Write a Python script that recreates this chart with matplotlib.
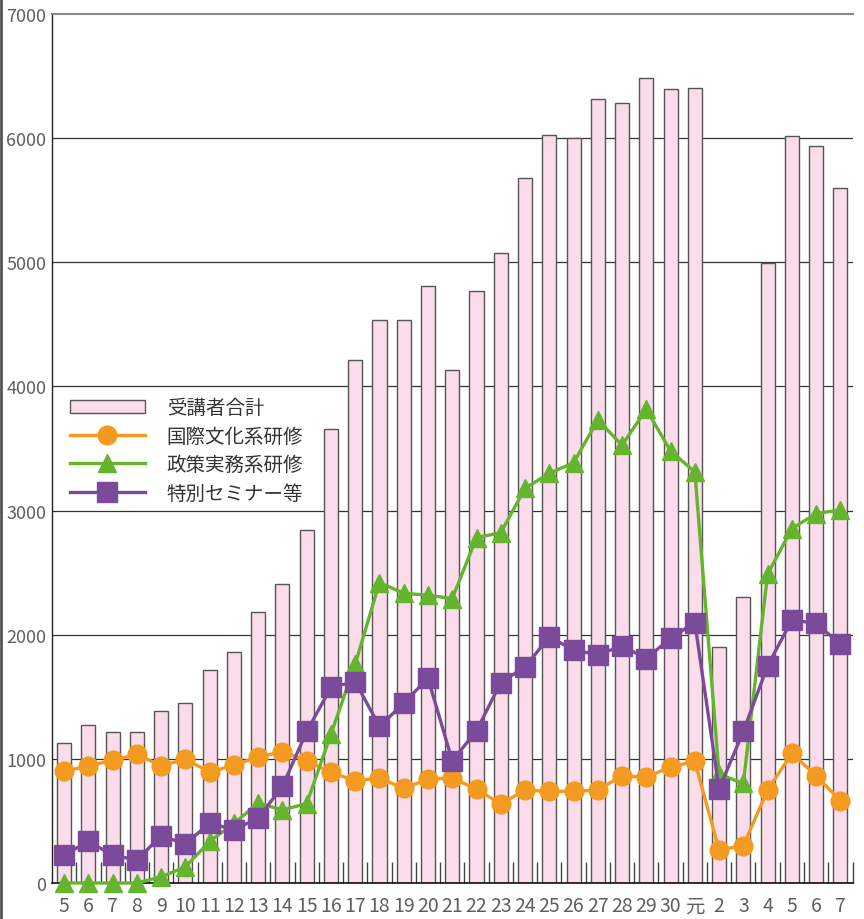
import matplotlib
matplotlib.use("Agg")
import matplotlib.pyplot as plt
from matplotlib.lines import Line2D
from matplotlib.patches import Patch
import numpy as np

plt.rcParams['font.family'] = ['Noto Sans CJK JP', 'DejaVu Sans']

years = ['5', '6', '7', '8', '9', '10', '11', '12', '13', '14', '15', '16', '17',
         '18', '19', '20', '21', '22', '23', '24', '25', '26', '27', '28', '29',
         '30', '元', '2', '3', '4', '5', '6', '7']

# 受講者合計
total = [1124, 1269, 1218, 1220, 1382, 1451, 1717, 1857, 2179, 2407, 2844,
         3660, 4210, 4534, 4534, 4813, 4135, 4770, 5071, 5680, 6023, 6002,
         6318, 6281, 6482, 6393, 6401, 1902, 2307, 4996, 6018, 5937, 5597]
# 国際文化系研修
kokusai = [899, 944, 987, 1036, 944, 998, 893, 950, 1014, 1057, 984, 891,
           824, 845, 762, 837, 845, 757, 636, 749, 738, 738, 749, 864, 851,
           936, 979, 266, 301, 749, 1044, 864, 663]
# 政策実務系研修
seisaku = [0, 0, 0, 0, 50, 130, 335, 480, 644, 588, 640, 1199, 1763, 2420,
           2334, 2318, 2291, 2782, 2822, 3179, 3300, 3385, 3729, 3528, 3815,
           3480, 3311, 877, 802, 2487, 2855, 2976, 3005]
# 特別セミナー等
tokubetsu = [225, 335, 225, 185, 381, 314, 483, 429, 523, 778, 1221, 1575,
             1623, 1261, 1449, 1650, 984, 1226, 1615, 1741, 1982, 1878, 1838,
             1910, 1808, 1972, 2098, 757, 1221, 1749, 2117, 2093, 1924]

pink = '#FADCEA'
orange = '#F39A21'
green = '#64B42E'
purple = '#7C4A9A'
tick_grey = '#5f5f5f'

fig = plt.figure(figsize=(8.64, 9.2), dpi=100)
ax = fig.add_axes([52 / 864, 1 - 884 / 920, 800.5 / 864, 869 / 920])

x = np.arange(len(years))

# grid lines behind everything
for v in range(1000, 7000, 1000):
    ax.axhline(v, color='#333333', lw=0.9, zorder=0)

ax.bar(x, total, width=0.58, color=pink, edgecolor='#555555', linewidth=1.0, zorder=1)

# markers at 0 hang below the axis in the original, so no clipping
ax.plot(x, kokusai, color=orange, lw=2.4, marker='o', markersize=13.5, zorder=3, clip_on=False)
ax.plot(x, seisaku, color=green, lw=2.4, marker='^', markersize=13.5, zorder=4, clip_on=False)
ax.plot(x, tokubetsu, color=purple, lw=2.4, marker='s', markersize=14.5, zorder=5, clip_on=False)

ax.set_xlim(-0.5, len(years) - 0.5)
ax.set_ylim(0, 7000)

ax.set_yticks(range(0, 7001, 1000))
ax.set_yticklabels([str(v) for v in range(0, 7001, 1000)])
ax.tick_params(axis='y', length=0, pad=4, labelsize=13, labelcolor=tick_grey)

ax.set_xticks(x)
ax.set_xticklabels(years)
ax.tick_params(axis='x', which='major', length=0, pad=9, labelsize=14, labelcolor=tick_grey)
ax.set_xticks(np.arange(0.5, len(years), 1.0), minor=True)
ax.tick_params(axis='x', which='minor', direction='in', length=15, width=1.0, color='#444444')

ax.spines['right'].set_visible(False)
ax.spines['top'].set_color('#888888')
ax.spines['top'].set_linewidth(1.5)
ax.spines['left'].set_color('#222222')
ax.spines['left'].set_linewidth(1.0)
ax.spines['bottom'].set_color('#111111')
ax.spines['bottom'].set_linewidth(1.2)

handles = [
    Patch(facecolor=pink, edgecolor='#555555', linewidth=1.0),
    Line2D([], [], color=orange, lw=2.4, marker='o', markersize=13.5),
    Line2D([], [], color=green, lw=2.4, marker='^', markersize=13.5),
    Line2D([], [], color=purple, lw=2.4, marker='s', markersize=14.5),
]
labels = ['受講者合計', '国際文化系研修', '政策実務系研修', '特別セミナー等']
ax.legend(handles, labels, loc='upper left', bbox_to_anchor=(0.0, 0.579),
          frameon=False, fontsize=14, handlelength=3.9, handletextpad=1.1,
          labelspacing=0.38, labelcolor='#333333')

# thin frame line on the left edge of the picture
fig.add_artist(Line2D([0.001, 0.001], [0, 1], transform=fig.transFigure,
                      color='#555555', lw=2))

fig.savefig('out.png', dpi=100)
